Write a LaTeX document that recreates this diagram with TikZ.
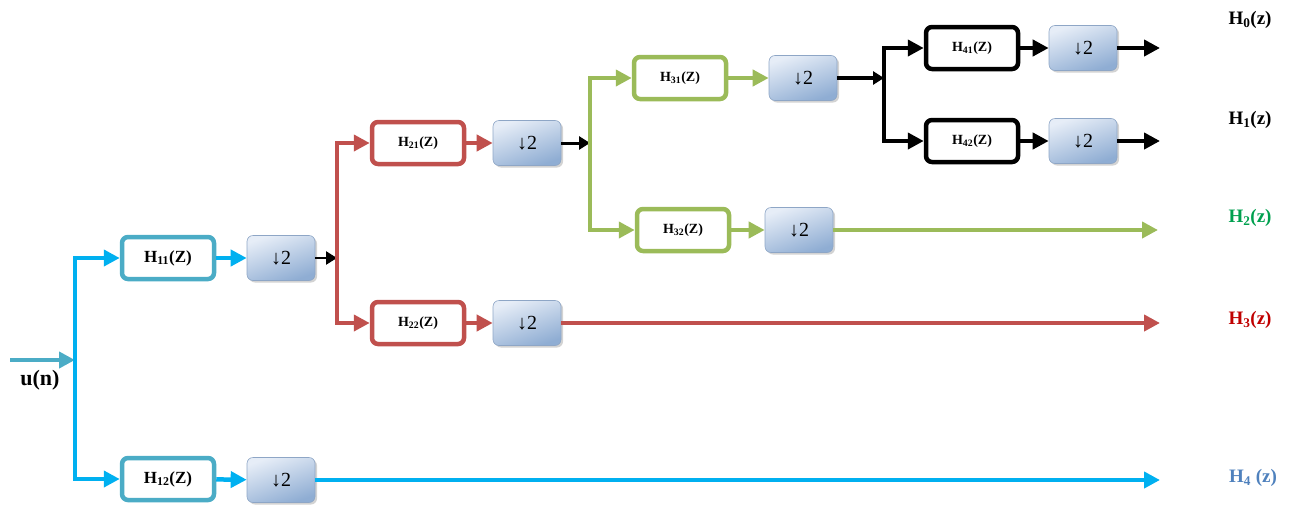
\documentclass[tikz,border=0pt]{standalone}
\usepackage{fontspec}
\setmainfont{Liberation Serif}
\usetikzlibrary{arrows.meta,shadows}

\definecolor{tealbox}{HTML}{4BACC6}
\definecolor{cyanline}{HTML}{00B0F0}
\definecolor{redbox}{HTML}{C0504D}
\definecolor{greenbox}{HTML}{9BBB59}
\definecolor{dstop}{HTML}{E6EDF7}
\definecolor{dsbot}{HTML}{8FADD3}
\definecolor{dsedge}{HTML}{8EA6C6}
\definecolor{hgreen}{HTML}{00A04F}
\definecolor{hred}{HTML}{C00000}
\definecolor{hblue}{HTML}{4F81BD}

\tikzset{
  filterbox/.style={draw, line width=4.5pt, rounded corners=6pt, fill=white,
    minimum width=92pt, minimum height=42pt, inner sep=0pt,
    font=\bfseries\fontsize{14}{14}\selectfont},
  dsbox/.style={draw=dsedge, line width=0.6pt, rounded corners=6pt,
    top color=dstop, bottom color=dsbot, shading angle=20,
    minimum width=68pt, minimum height=45pt, inner sep=0pt,
    font=\fontsize{20}{20}\selectfont,
    drop shadow={shadow xshift=2pt,shadow yshift=-2pt,opacity=0.35}},
  sigarrow/.style={line width=4.5pt, -{Triangle[length=16pt,width=16pt]}},
  blkarrow/.style={black, line width=3pt, -{Triangle[length=11pt,width=13pt]}},
  outlbl/.style={font=\bfseries\fontsize{19}{19}\selectfont},
}

\begin{document}
\begin{tikzpicture}[x=1pt,y=-1pt]
\useasboundingbox (0,0) rectangle (1291,504);

% stage 1
\node[filterbox, draw=tealbox, font=\bfseries\fontsize{17}{17}\selectfont] (h11) at (168,258) {H\textsubscript{11}(Z)};
\node[dsbox] (d11) at (281,258) {↓2};
\node[filterbox, draw=tealbox, font=\bfseries\fontsize{17}{17}\selectfont] (h12) at (168,479) {H\textsubscript{12}(Z)};
\node[dsbox] (d12) at (281,480) {↓2};
% stage 2
\node[filterbox, draw=redbox] (h21) at (418,143) {H\textsubscript{21}(Z)};
\node[dsbox] (d21) at (527,143) {↓2};
\node[filterbox, draw=redbox] (h22) at (418,323) {H\textsubscript{22}(Z)};
\node[dsbox] (d22) at (527,323) {↓2};
% stage 3
\node[filterbox, draw=greenbox] (h31) at (680,78) {H\textsubscript{31}(Z)};
\node[dsbox] (d31) at (803,78) {↓2};
\node[filterbox, draw=greenbox] (h32) at (683,230) {H\textsubscript{32}(Z)};
\node[dsbox] (d32) at (799,230) {↓2};
% stage 4
\node[filterbox, draw=black] (h41) at (972,48) {H\textsubscript{41}(Z)};
\node[dsbox] (d41) at (1083,48) {↓2};
\node[filterbox, draw=black] (h42) at (972,141) {H\textsubscript{42}(Z)};
\node[dsbox] (d42) at (1083,141) {↓2};

% branch points and output ends
\coordinate (src) at (10,360);
\coordinate (b1) at (75,360);
\coordinate (b2) at (337,258);
\coordinate (b3) at (590,143);
\coordinate (b4) at (884,78);
\coordinate (o0) at (1160,48);
\coordinate (o1) at (1160,141);
\coordinate (o2) at (1158,230);
\coordinate (o3) at (1160,323);
\coordinate (o4) at (1160,480);

% input
\draw[sigarrow, tealbox] (src) -- (b1);
\node[font=\bfseries\fontsize{22}{22}\selectfont] (un) at (40,380) {u(n)};
\draw[sigarrow, cyanline] (b1) |- (h11);
\draw[sigarrow, cyanline] (b1) |- (h12);
\draw[sigarrow, cyanline] (h11) -- (d11);
\draw[sigarrow, cyanline] (h12) -- (d12);
\draw[sigarrow, cyanline] (d12) -- (o4);

\draw[blkarrow, line width=2.5pt] (d11) -- (b2);
\draw[sigarrow, redbox, line width=4pt] (b2) |- (h21);
\draw[sigarrow, redbox, line width=4pt] (b2) |- (h22);
\draw[sigarrow, redbox, line width=4pt] (h21) -- (d21);
\draw[sigarrow, redbox, line width=4pt] (h22) -- (d22);
\draw[sigarrow, redbox, line width=4pt] (d22) -- (o3);

\draw[blkarrow] (d21) -- (b3);
\draw[sigarrow, greenbox, line width=4pt] (b3) |- (h31);
\draw[sigarrow, greenbox, line width=4pt] (b3) |- (h32);
\draw[sigarrow, greenbox, line width=4pt] (h31) -- (d31);
\draw[sigarrow, greenbox, line width=4pt] (h32) -- (d32);
\draw[sigarrow, greenbox, line width=4pt] (d32) -- (o2);

\draw[blkarrow, line width=4pt] (d31) -- (b4);
\draw[sigarrow, black] (b4) |- (h41);
\draw[sigarrow, black] (b4) |- (h42);
\draw[sigarrow, black] (h41) -- (d41);
\draw[sigarrow, black] (h42) -- (d42);
\draw[sigarrow, black] (d41) -- (o0);
\draw[sigarrow, black] (d42) -- (o1);

% outputs
\node[outlbl] (l0) at (1250,20) {H\textsubscript{0}(z)};
\node[outlbl] (l1) at (1250,120) {H\textsubscript{1}(z)};
\node[outlbl, text=hgreen] (l2) at (1250,218) {H\textsubscript{2}(z)};
\node[outlbl, text=hred] (l3) at (1250,320) {H\textsubscript{3}(z)};
\node[outlbl, text=hblue] (l4) at (1253,478) {H\textsubscript{4} (z)};
\end{tikzpicture}
\end{document}
